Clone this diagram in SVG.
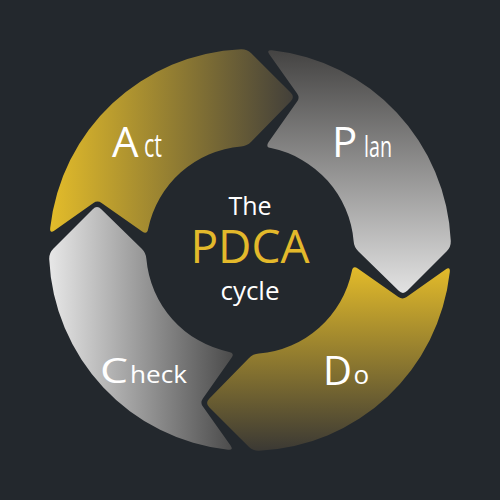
<svg xmlns="http://www.w3.org/2000/svg" xmlns:xlink="http://www.w3.org/1999/xlink" width="500" height="500" viewBox="0 0 500 500">
<style>
.t{font-family:'Open Sans','Liberation Sans',sans-serif;fill:#ffffff}
.gold{fill:#e3b92b}
</style>
<defs>
<path id="seg" d="M 21.95,-199.80 A 201 201 0 0 1 200.80,-8.99 Q 200.98,-3 196.74,1.24 L 157.24,40.76 Q 153,45 148.71,40.80 L 108.25,1.20 Q 103.96,-3 103.61,-8.99 A 104 104 0 0 0 20.91,-101.88 Q 15,-102.9 18.46,-107.80 L 47.12,-148.42 Q 50,-152.5 47.11,-156.58 L 19.47,-195.51 Q 16,-200.4 21.95,-199.80 Z"/>
<linearGradient id="gPlan" x1="0" y1="0" x2="0" y2="1">
<stop offset="0" stop-color="#444342"/><stop offset="1" stop-color="#e2e2e2"/>
</linearGradient>
<linearGradient id="gDo" x1="0" y1="0" x2="1" y2="0">
<stop offset="0" stop-color="#e3bb2a"/><stop offset="1" stop-color="#3b3934"/>
</linearGradient>
<linearGradient id="gCheck" x1="1" y1="0" x2="0" y2="0">
<stop offset="0" stop-color="#e7e7e7"/><stop offset="1" stop-color="#4b4b4b"/>
</linearGradient>
<linearGradient id="gAct" x1="0" y1="0" x2="0" y2="1">
<stop offset="0" stop-color="#e3bc2a"/><stop offset="1" stop-color="#43403a"/>
</linearGradient>
</defs>
<rect width="500" height="500" fill="#23282d"/>
<g id="plan">
<use xlink:href="#seg" transform="translate(250 250)" fill="url(#gPlan)"/>
<text class="t" x="332" y="157" font-size="42">P</text>
<text class="t" x="364" y="157" font-size="30" textLength="28" lengthAdjust="spacingAndGlyphs">lan</text>
</g>
<g id="do">
<use xlink:href="#seg" transform="translate(250 250) rotate(90)" fill="url(#gDo)"/>
<text class="t" x="323" y="385" font-size="40">D</text>
<text class="t" x="353.5" y="384" font-size="26">o</text>
</g>
<g id="check">
<use xlink:href="#seg" transform="translate(250 250) rotate(180)" fill="url(#gCheck)"/>
<text class="t" x="100" y="383" font-size="35" textLength="28" lengthAdjust="spacingAndGlyphs">C</text>
<text class="t" x="130" y="383" font-size="23" textLength="57" lengthAdjust="spacingAndGlyphs">heck</text>
</g>
<g id="act">
<use xlink:href="#seg" transform="translate(250 250) rotate(270)" fill="url(#gAct)"/>
<text class="t" x="112" y="157" font-size="42">A</text>
<text class="t" x="144" y="157" font-size="33" textLength="18" lengthAdjust="spacingAndGlyphs">ct</text>
</g>
<g id="center">
<text class="t" x="250" y="215" font-size="25" text-anchor="middle">The</text>
<text class="t gold" x="250" y="263" font-size="46" text-anchor="middle">PDCA</text>
<text class="t" x="250" y="300" font-size="26" text-anchor="middle">cycle</text>
</g>
</svg>
